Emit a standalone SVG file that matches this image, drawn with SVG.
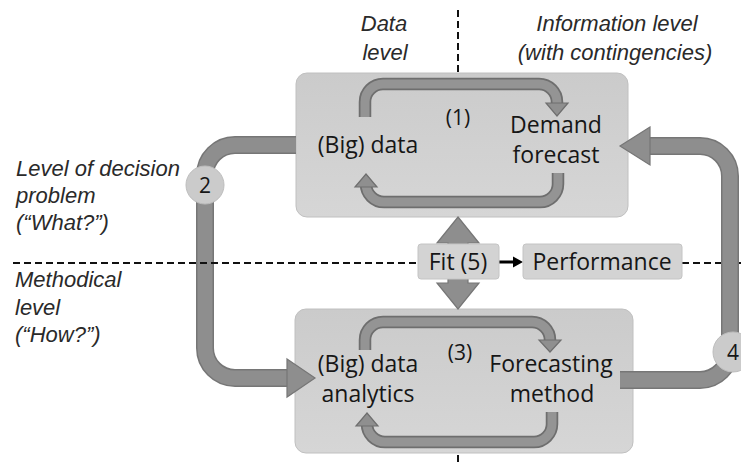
<svg xmlns="http://www.w3.org/2000/svg" xmlns:xlink="http://www.w3.org/1999/xlink" width="741" height="464" viewBox="0 0 741 464">
<style>
.box{stroke:#c0c0c0;stroke-width:1}
.small{fill:#d3d3d3;stroke:#c4c4c4;stroke-width:1}
.t{font-family:"Open Sans","Liberation Sans",sans-serif;font-size:23px;fill:#161616;text-anchor:middle}
.n{font-family:"Open Sans","Liberation Sans",sans-serif;font-size:21px;fill:#161616;text-anchor:middle}
.lbl{font-family:"Liberation Sans",Arial,sans-serif;font-size:22px;font-style:italic;fill:#2a2a2a}
.c{text-anchor:middle}
.dash{stroke:#111;stroke-width:2;stroke-dasharray:7 4;fill:none}
.io{fill:none;stroke:#6e6e6e;stroke-width:12.5}
.ii{fill:none;stroke:#949494;stroke-width:9}
.ih{fill:#8f8f8f;stroke:#6e6e6e;stroke-width:1.2}
.bo{fill:none;stroke:#767676;stroke-width:18}
.bi{fill:none;stroke:#8e8e8e;stroke-width:15}
.bh{fill:#8e8e8e;stroke:#767676;stroke-width:1.2}
.circ{fill:#cbcbcb;stroke:#bdbdbd;stroke-width:1}
</style>
<defs>
<linearGradient id="g" x1="0" y1="0" x2="0" y2="1">
<stop offset="0" stop-color="#cbcbcb"/>
<stop offset="1" stop-color="#d6d6d6"/>
</linearGradient>
<path id="a1" d="M365,117 V102 A18,18 0 0 1 383,84 H539 A18,18 0 0 1 557,102 V105"/>
<path id="a2" d="M558,173 V184 A18,18 0 0 1 540,202 H384 A18,18 0 0 1 366,184 V187"/>
<path id="a3" d="M365,350 V340 A18,18 0 0 1 383,322 H532 A18,18 0 0 1 550,340 V341"/>
<path id="a4" d="M552,412 V424 A18,18 0 0 1 534,442 H385 A18,18 0 0 1 367,424 V426"/>
<path id="c2" d="M296,145 H235 A30,30 0 0 0 205,175 V348 A30,30 0 0 0 235,378 H289"/>
<path id="c4" d="M620,380 H700 A30,30 0 0 0 730,350 V176 A30,30 0 0 0 700,146 H648"/>
</defs>
<rect width="741" height="464" fill="#ffffff"/>

<g id="guides">
<line class="dash" x1="458" y1="10" x2="458" y2="73"/>
<line class="dash" x1="458" y1="455" x2="458" y2="464"/>
<line class="dash" x1="682" y1="263" x2="741" y2="263"/>
</g>

<g id="labels">
<text class="lbl c" x="384" y="31">Data</text>
<text class="lbl c" x="385" y="60">level</text>
<text class="lbl c" x="617" y="31">Information level</text>
<text class="lbl c" x="615" y="60">(with contingencies)</text>
<text class="lbl" x="16" y="176">Level of decision</text>
<text class="lbl" x="16" y="203">problem</text>
<text class="lbl" x="16" y="230">(“What?”)</text>
<text class="lbl" x="15" y="287">Methodical</text>
<text class="lbl" x="15" y="315">level</text>
<text class="lbl" x="15" y="342">(“How?”)</text>
</g>

<g id="top-box">
<rect class="box" x="296" y="73" width="332" height="144" rx="11" fill="url(#g)"/>
<text class="t" x="368" y="153">(Big) data</text>
<text class="t" x="556" y="133">Demand</text>
<text class="t" x="556" y="163">forecast</text>
<text class="n" x="458" y="125">(1)</text>
</g>

<g id="bottom-box">
<rect class="box" x="295" y="309" width="338" height="144" rx="11" fill="url(#g)"/>
<text class="t" x="368" y="372">(Big) data</text>
<text class="t" x="368" y="402">analytics</text>
<text class="t" x="551" y="372">Forecasting</text>
<text class="t" x="552" y="402">method</text>
<text class="n" x="460" y="360">(3)</text>
</g>

<g id="connectors">
<use href="#a1" class="io"/><use href="#a1" class="ii"/>
<polygon class="ih" points="546,103 568,103 557,116"/>
<use href="#a2" class="io"/><use href="#a2" class="ii"/>
<polygon class="ih" points="355,187 377,187 366,174"/>
<use href="#a3" class="io"/><use href="#a3" class="ii"/>
<polygon class="ih" points="539,340 561,340 550,352"/>
<use href="#a4" class="io"/><use href="#a4" class="ii"/>
<polygon class="ih" points="356,426 378,426 367,413"/>
<use href="#c2" class="bo"/><use href="#c2" class="bi"/>
<polygon class="bh" points="287,359 315,378 287,397"/>
<use href="#c4" class="bo"/><use href="#c4" class="bi"/>
<polygon class="bh" points="650,127 620,146 650,165"/>
<polygon class="bh" points="458,217 479,243 468,243 468,283 479,283 458,309 437,283 448,283 448,243 437,243"/>
<line x1="499" y1="262" x2="515" y2="262" stroke="#000" stroke-width="3"/>
<polygon points="513,256.5 523,262 513,267.5" fill="#000"/>
</g>

<g id="left-guide">
<line class="dash" x1="13" y1="263" x2="418" y2="263"/>
</g>

<g id="circle-2">
<circle class="circ" cx="205" cy="185" r="19"/>
<text class="n" x="205" y="193">2</text>
</g>

<g id="circle-4">
<circle class="circ" cx="733" cy="352" r="20"/>
<text class="n" x="733" y="360">4</text>
</g>

<g id="fit">
<rect class="small" x="418" y="244" width="81" height="35" rx="3"/>
<text class="t" x="458" y="270">Fit (5)</text>
</g>

<g id="performance">
<rect class="small" x="523" y="244" width="159" height="35" rx="3"/>
<text class="t" x="602" y="270">Performance</text>
</g>
</svg>
